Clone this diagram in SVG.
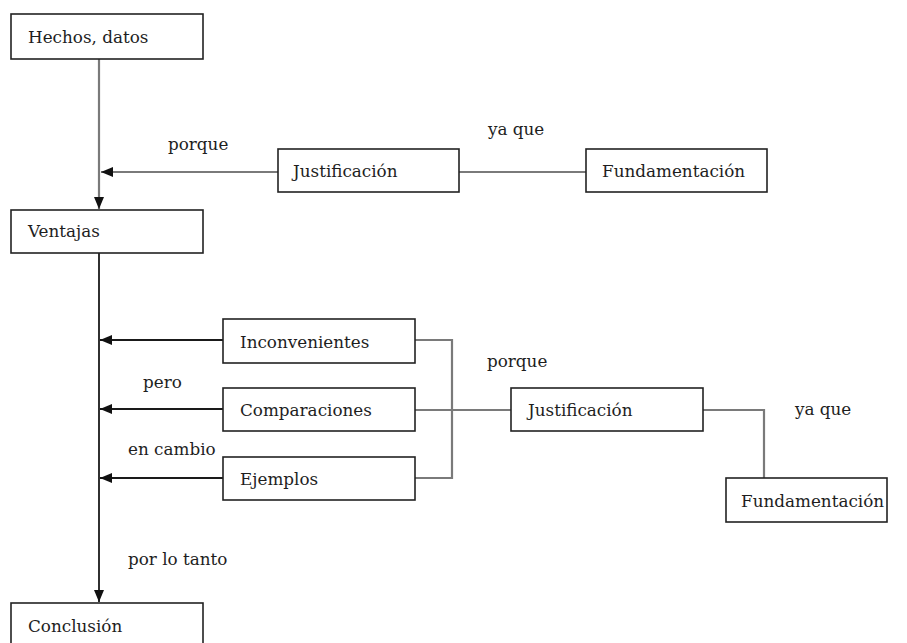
<svg xmlns="http://www.w3.org/2000/svg" width="907" height="643" viewBox="0 0 907 643">
<style>
.box{fill:#fff;stroke:#222;stroke-width:1.6}
.t{font-family:"DejaVu Serif","Liberation Serif",serif;font-size:16.8px;fill:#1e1e1e}
.g{stroke:#7a7a7a;stroke-width:2.2;fill:none}
.k{stroke:#1a1a1a;stroke-width:1.8;fill:none}
</style>
<defs>
<marker id="ah" viewBox="0 0 12 10" refX="12" refY="5" markerWidth="12" markerHeight="10" markerUnits="userSpaceOnUse" orient="auto">
<path d="M0,0 L12,5 L0,10 z" fill="#111"/>
</marker>
</defs>
<rect width="907" height="643" fill="#fff"/>
<g id="connectors">
<line class="g" x1="99" y1="59" x2="99" y2="209" marker-end="url(#ah)"/>
<line class="g" x1="278" y1="172" x2="101" y2="172" marker-end="url(#ah)"/>
<line class="g" x1="459" y1="172" x2="586" y2="172"/>
<line class="k" x1="99" y1="253" x2="99" y2="602" marker-end="url(#ah)"/>
<line class="k" x1="223" y1="340" x2="100" y2="340" marker-end="url(#ah)"/>
<line class="k" x1="223" y1="409" x2="100" y2="409" marker-end="url(#ah)"/>
<line class="k" x1="223" y1="478" x2="100" y2="478" marker-end="url(#ah)"/>
<polyline class="g" points="415,340 452,340 452,478 415,478"/>
<line class="g" x1="415" y1="410" x2="511" y2="410"/>
<polyline class="g" points="703,410 764,410 764,478"/>
<text class="t" x="168" y="150">porque</text>
<text class="t" x="488" y="135">ya que</text>
<text class="t" x="143" y="388">pero</text>
<text class="t" x="128" y="455">en cambio</text>
<text class="t" x="487" y="367">porque</text>
<text class="t" x="795" y="415">ya que</text>
<text class="t" x="128" y="565">por lo tanto</text>
</g>
<g id="hechos"><rect class="box" x="11" y="14" width="192" height="45"/><text class="t" x="28" y="43">Hechos, datos</text></g>
<g id="ventajas"><rect class="box" x="11" y="210" width="192" height="43"/><text class="t" x="28" y="237">Ventajas</text></g>
<g id="justificacion1"><rect class="box" x="278" y="149" width="181" height="43"/><text class="t" x="293" y="177">Justificación</text></g>
<g id="fundamentacion1"><rect class="box" x="586" y="149" width="181" height="43"/><text class="t" x="602" y="177">Fundamentación</text></g>
<g id="inconvenientes"><rect class="box" x="223" y="319" width="192" height="44"/><text class="t" x="240" y="348">Inconvenientes</text></g>
<g id="comparaciones"><rect class="box" x="223" y="388" width="192" height="43"/><text class="t" x="240" y="416">Comparaciones</text></g>
<g id="ejemplos"><rect class="box" x="223" y="457" width="192" height="43"/><text class="t" x="240" y="485">Ejemplos</text></g>
<g id="justificacion2"><rect class="box" x="511" y="388" width="192" height="43"/><text class="t" x="528" y="416">Justificación</text></g>
<g id="fundamentacion2"><rect class="box" x="726" y="478" width="161" height="44"/><text class="t" x="741" y="507">Fundamentación</text></g>
<g id="conclusion"><rect class="box" x="11" y="603" width="192" height="45"/><text class="t" x="28" y="632">Conclusión</text></g>
</svg>
